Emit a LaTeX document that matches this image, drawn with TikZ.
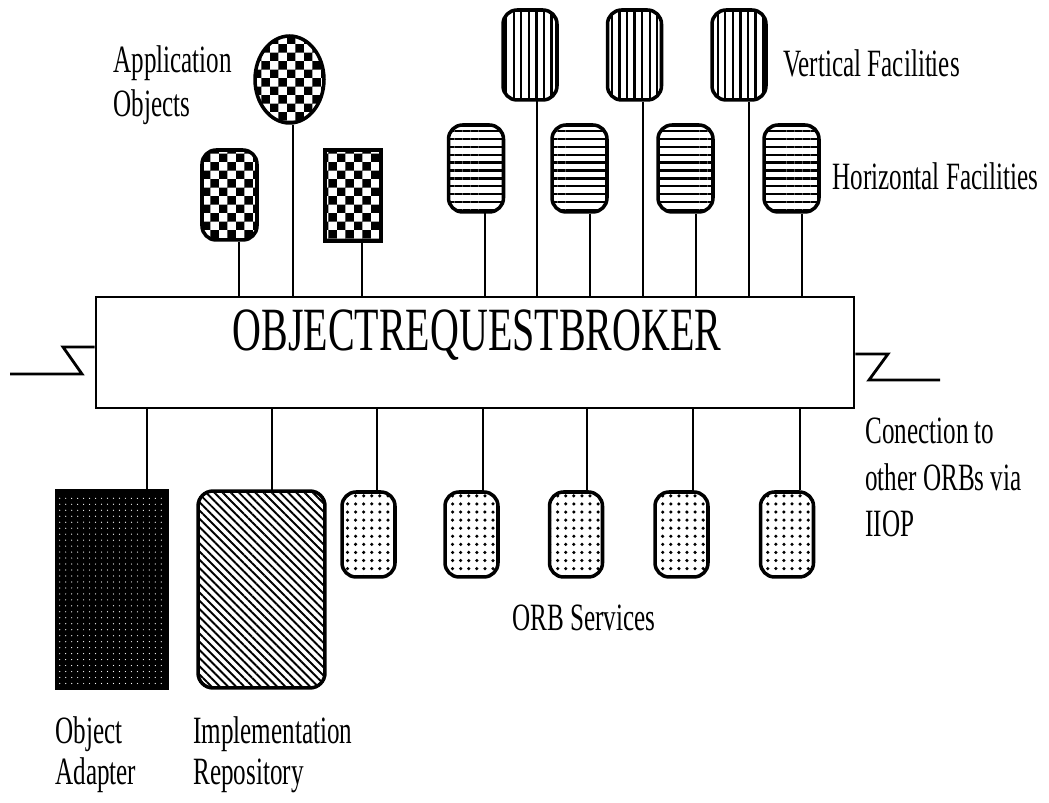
\documentclass[tikz,border=0pt]{standalone}
\usepackage{fontspec}
\setmainfont[FakeStretch=0.65]{Liberation Serif}
\usepackage{tikz}
\usetikzlibrary{shapes.geometric, patterns, patterns.meta}

\pgfdeclarepatternformonly{checker}{\pgfpointorigin}{\pgfqpoint{9.6pt}{9.6pt}}{\pgfqpoint{9.6pt}{9.6pt}}{%
  \pgfpathrectangle{\pgfpointorigin}{\pgfqpoint{4.8pt}{4.8pt}}%
  \pgfpathrectangle{\pgfqpoint{4.8pt}{4.8pt}}{\pgfqpoint{4.8pt}{4.8pt}}%
  \pgfusepath{fill}}

\begin{document}
\begin{tikzpicture}[
            x=0.02cm, y=-0.02cm,
            font=\fontsize{22}{25.5}\selectfont,
            stem/.style={draw, line width=1.2pt},
            obj/.style={draw, line width=2pt, inner sep=0pt},
            rnd/.style={obj, rectangle, rounded corners=8pt},
            appobj/.style={obj, pattern=checker},
            vfac/.style={rnd, minimum width=1.08cm, minimum height=1.8cm, pattern={Lines[angle=90, distance=4.3pt, line width=1.3pt]}},
            hfac/.style={rnd, minimum width=1.1cm, minimum height=1.74cm, pattern={Lines[angle=0, distance=4.5pt, line width=1.3pt]}},
            orbsvc/.style={rnd, minimum width=1.06cm, minimum height=1.7cm, pattern={Dots[distance=4.6pt, radius=1pt]}},
            orbbox/.style={draw, line width=1.6pt, minimum width=15.16cm, minimum height=2.22cm},
            lbl/.style={anchor=base west, align=left, inner sep=0pt}
        ]
            \useasboundingbox (0,0) rectangle (1049,803);

            % broker
            \node[orbbox] (orb) at (475,352.5) {};
            \node[font=\fontsize{35}{40}\selectfont, inner sep=0pt, anchor=base] (orbtxt) at (477,351) {OBJECTREQUESTBROKER};

            % application objects
            \node[appobj, rnd, minimum width=1.1cm, minimum height=1.8cm] (ao1) at (229.5,195) {};
            \node[appobj, ellipse, minimum width=1.38cm, minimum height=1.74cm] (ao2) at (289.5,79.5) {};
            \node[appobj, rectangle, minimum width=1.12cm, minimum height=1.82cm] (ao3) at (353,195.5) {};

            % facilities
            \node[vfac] (vf1) at (530,55) {};
            \node[vfac] (vf2) at (634.5,55) {};
            \node[vfac] (vf3) at (739,55) {};
            \node[hfac] (hf1) at (476,168.5) {};
            \node[hfac] (hf2) at (579.5,168.5) {};
            \node[hfac] (hf3) at (685.5,168.5) {};
            \node[hfac] (hf4) at (791.5,168.5) {};

            \foreach \n/\sx in {ao1/239, ao2/293, ao3/362, vf1/537, vf2/643, vf3/749, hf1/485, hf2/590, hf3/696, hf4/802}
                \draw[stem] (\n.south -| \sx,0) -- (orb.north -| \sx,0);

            % adapter, repository and services
            \node[obj, minimum width=2.2cm, minimum height=3.94cm, preaction={fill=black},
                  pattern={Dots[distance=3.4pt, radius=0.35pt]}, pattern color=white] (oa) at (112,589.5) {};
            \node[obj, rounded corners=0.3cm, minimum width=2.54cm, minimum height=3.94cm,
                  pattern={Lines[angle=-45, distance=3.3pt, line width=1.1pt]}] (ir) at (261.5,589.5) {};
            \node[orbsvc] (os1) at (368.5,534.5) {};
            \node[orbsvc] (os2) at (471.5,534.5) {};
            \node[orbsvc] (os3) at (576,534.5) {};
            \node[orbsvc] (os4) at (681.5,534.5) {};
            \node[orbsvc] (os5) at (787,534.5) {};

            \foreach \n/\sx in {oa/147, ir/272, os1/377, os2/483, os3/587, os4/693, os5/800}
                \draw[stem] (orb.south -| \sx,0) -- (\n.north -| \sx,0);

            % links to other brokers
            \coordinate (lend) at (10,374);
            \coordinate (rend) at (940,380);
            \draw[stem, line width=1.6pt] (lend) -- (82,374) -- (63,347) -- (orb.west |- 63,347);
            \draw[stem, line width=1.6pt] (orb.east |- 888,354) -- (888,354) -- (869,380) -- (rend);

            % labels (base = last line)
            \node[lbl] (lapp) at (113,117) {Application\\Objects};
            \node[lbl] (lvf) at (783,77) {Vertical Facilities};
            \node[lbl] (lhf) at (832,190) {Horizontal Facilities};
            \node[lbl, font=\fontsize{22}{26.7}\selectfont] (liiop) at (865,537) {Conection to\\other ORBs via\\IIOP};
            \node[lbl, font=\fontsize{22}{23.8}\selectfont] (loa) at (55,785) {Object\\Adapter};
            \node[lbl, font=\fontsize{22}{23.8}\selectfont] (lir) at (193,785) {Implementation\\Repository};
            \node[lbl] (los) at (512,631) {ORB Services};
        \end{tikzpicture}
\end{document}
